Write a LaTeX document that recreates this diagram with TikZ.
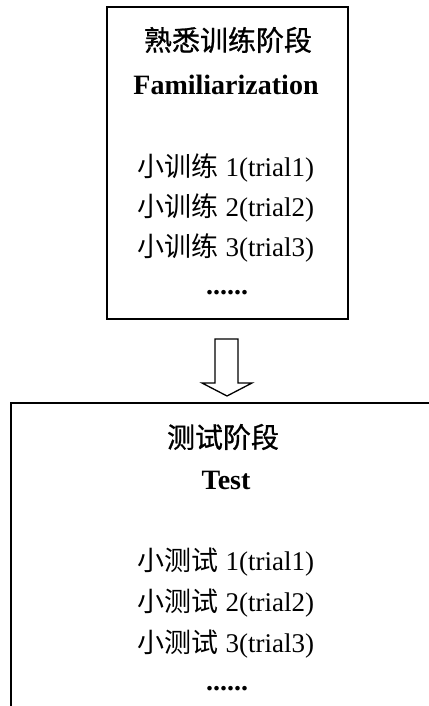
\documentclass[tikz,border=0pt]{standalone}
\usepackage{fontspec}
\setmainfont{Liberation Serif}
\newfontfamily\cjk{Noto Sans CJK SC}
\newfontfamily\cjkheavy[FakeBold=0.8]{Noto Sans CJK SC}
\begin{document}
\begin{tikzpicture}[x=1pt,y=-1pt,
  frame/.style={draw=black,line width=2pt},
  txt/.style={inner sep=0pt,font=\fontsize{27}{31}\selectfont},
  head/.style={inner sep=0pt,font=\fontsize{28}{32}\selectfont\bfseries},
  cjkhead/.style={inner sep=0pt,font=\fontsize{28}{32}\selectfont\cjkheavy},
  hollow/.style={draw=black,line width=1.3pt,fill=white,line join=miter}]
\useasboundingbox (0,0) rectangle (428,706);
\node[frame,minimum width=241pt,minimum height=312pt,inner sep=0pt] (top) at (227.5,163) {};
\node[cjkhead] (t1) at (228,40) {熟悉训练阶段};
\node[head] (t2) at (226,85) {Familiarization};
\node[txt] (t3) at (226,168) {{\cjk 小训练} 1(trial1)};
\node[txt] (t4) at (226,208) {{\cjk 小训练} 2(trial2)};
\node[txt] (t5) at (226,248) {{\cjk 小训练} 3(trial3)};
\node[head] (t6) at (227,293) {......};
\coordinate (bl) at (11,706);
\coordinate (tl) at (11,403);
\coordinate (tr) at (428,403);
\draw[frame,line cap=rect] (tr) -- (tl) -- (bl);
\draw[hollow] (215,339) -- (238,339) -- (238,383) -- (252,383) -- (227,396) -- (202,383) -- (215,383) -- cycle;
\node[cjkhead] (b1) at (223,437) {测试阶段};
\node[head] (b2) at (226,480) {Test};
\node[txt] (b3) at (226,562) {{\cjk 小测试} 1(trial1)};
\node[txt] (b4) at (226,603) {{\cjk 小测试} 2(trial2)};
\node[txt] (b5) at (226,644) {{\cjk 小测试} 3(trial3)};
\node[head] (b6) at (227,689) {......};
\end{tikzpicture}
\end{document}
